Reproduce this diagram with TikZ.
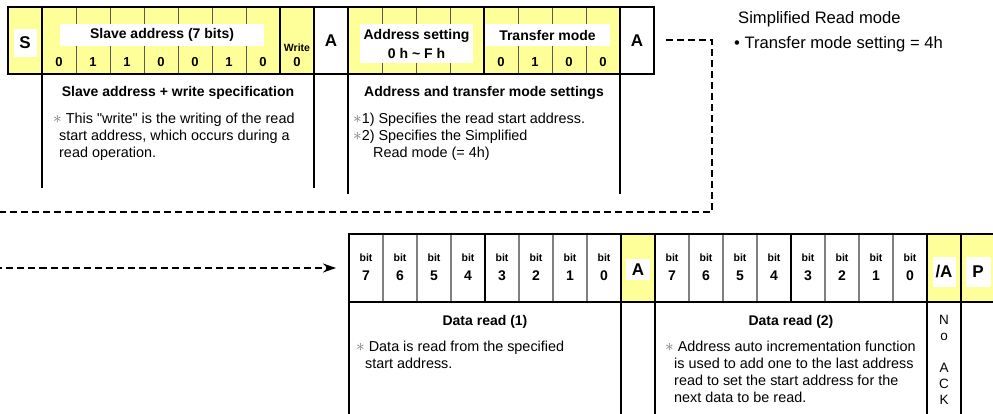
\documentclass[tikz,border=0pt]{standalone}
\usepackage{fontspec}
\setmainfont{Liberation Sans}
\usetikzlibrary{positioning, arrows.meta}
\definecolor{hiyellow}{RGB}{255,255,153}
\newcommand{\astmark}{{\color{black!55}\fontsize{17}{17}\selectfont$\ast$}}

\begin{document}
\begin{tikzpicture}[
        x=1pt,
        y=-1pt,
        cell/.style={minimum width=34pt, minimum height=67pt, inner sep=0pt, outer sep=0pt, anchor=north west},
        lowcell/.style={cell, minimum height=68pt},
        hi/.style={fill=hiyellow},
        sep/.style={draw=black!65, line width=0.8pt},
        datasep/.style={draw=gray, line width=1.2pt},
        frame/.style={draw, line width=2pt},
        leg/.style={line width=2.5pt},
        tag/.style={fill=white, inner sep=0pt, font=\bfseries\fontsize{14}{16}\selectfont},
        big/.style={font=\bfseries\fontsize{17}{19}\selectfont},
        digit/.style={font=\bfseries\fontsize{13}{15}\selectfont},
        lowdigit/.style={font=\bfseries\fontsize{14}{16}\selectfont},
        bitlbl/.style={font=\bfseries\fontsize{10.5}{12}\selectfont},
        head/.style={font=\bfseries\fontsize{14}{16}\selectfont},
        note/.style={anchor=north west, align=left, inner sep=0pt, font=\fontsize{14.4}{17}\selectfont},
        flow/.style={dash pattern=on 7pt off 4pt, line width=2pt}
    ]
    \useasboundingbox (0,0) rectangle (993,414);
    \clip (0,0) rectangle (993,414);

    \node[cell, hi] (start) at (8,7) {};
    \foreach \i in {1,...,7}
        \node[cell, hi, sep] (sa\i) at (8+34*\i,7) {};
    \node[cell, hi] (wr) at (280,7) {};
    \node[cell] (acka) at (314,7) {};
    \foreach \i in {1,...,4}
        \node[cell, hi, sep] (ad\i) at (314+34*\i,7) {};
    \foreach \i in {1,...,4}
        \node[cell, hi, sep] (tm\i) at (450+34*\i,7) {};
    \node[cell] (ackb) at (620,7) {};

    \draw[frame] (start.north west) rectangle (ackb.south east);
    \foreach \c in {start, sa7, wr, acka, ad4, tm4}
        \draw[frame] (\c.north east) -- (\c.south east);
    \foreach \c/\len in {start/114, wr/114, acka/120, tm4/120}
        \draw[leg] (\c.south east) -- ++(0,\len);

    \node[tag, big, minimum width=23pt, minimum height=28pt] at ([yshift=-2.5pt]start.center) {S};
    \node[tag, minimum width=204pt, minimum height=22pt] (satag) at (162,35) {Slave address (7 bits)};
    \foreach \v [count=\i] in {0,1,1,0,0,1,0}
        \node[digit] at ([yshift=-21.5pt]sa\i.center) {\v};
    \node[bitlbl] at ([yshift=-7.5pt]wr.center) {Write};
    \node[digit] at ([yshift=-21.5pt]wr.center) {0};
    \node[big] at (acka) {A};
    \node[tag, minimum width=113pt, minimum height=39pt, align=center, font=\bfseries\fontsize{14}{19}\selectfont] (adtag) at (416.5,43.5) {Address setting\\0 h \textasciitilde{} F h};
    \node[tag, minimum width=125pt, minimum height=22pt] (tmtag) at (547.5,35) {Transfer mode};
    \foreach \v [count=\i] in {0,1,0,0}
        \node[digit] at ([yshift=-21.5pt]tm\i.center) {\v};
    \node[big] at (ackb) {A};

    \node[head] (sahead) at (178,93) {Slave address + write specification};
    \node[note] (sanote) at (53,112.5) {\astmark\ This \textquotedbl write\textquotedbl{} is the writing of the read\\\hspace*{6pt}start address, which occurs during a\\\hspace*{6pt}read operation.};
    \node[head] (adhead) at (484,93) {Address and transfer mode settings};
    \node[note] (adnote) at (353,112.5) {\astmark1) Specifies the read start address.\\\astmark2) Specifies the Simplified\\\hspace*{20pt}Read mode (= 4h)};

    \node[anchor=west, inner sep=0pt, font=\fontsize{16.6}{18}\selectfont] (modetitle) at (738,19) {Simplified Read mode};
    \node[anchor=west, inner sep=0pt, font=\fontsize{16.6}{18}\selectfont] (modeitem) at (734,44) {\textbullet\ Transfer mode setting = 4h};

    \foreach \i in {1,...,8}
        \node[lowcell, datasep] (dA\i) at (315+34*\i,234) {};
    \node[lowcell, hi] (ackc) at (621,234) {};
    \foreach \i in {1,...,8}
        \node[lowcell, datasep] (dB\i) at (621+34*\i,234) {};
    \node[lowcell, hi] (nack) at (927,234) {};
    \node[lowcell, hi] (stop) at (961,234) {};

    \draw[frame] (dA1.north west) rectangle (stop.south east);
    \foreach \c in {dA4, dA8, ackc, dB4, dB8, nack}
        \draw[frame] (\c.north east) -- (\c.south east);
    \foreach \c in {dA1.south west, dA8.south east, ackc.south east, dB8.south east, nack.south east}
        \draw[leg] (\c) -- ++(0,115);

    \foreach \i [evaluate=\i as \b using int(8-\i)] in {1,...,8} {
        \node[bitlbl] at ([yshift=10pt]dA\i.center) {bit};
        \node[lowdigit] at ([yshift=-8pt]dA\i.center) {\b};
        \node[bitlbl] at ([yshift=10pt]dB\i.center) {bit};
        \node[lowdigit] at ([yshift=-8pt]dB\i.center) {\b};
    }
    \node[tag, big, minimum width=24pt, minimum height=21pt] at ([yshift=-1.5pt]ackc.center) {A};
    \node[tag, big, minimum width=23pt, minimum height=30pt] at ([yshift=-4pt]nack.center) {/A};
    \node[tag, big, minimum width=25pt, minimum height=30pt] at ([yshift=-4pt]stop.center) {P};

    \node[head] (rdhead) at (485,322) {Data read (1)};
    \node[note] (rdnote) at (356,340.5) {\astmark\ Data is read from the specified\\\hspace*{9pt}start address.};
    \node[head] (nxhead) at (791,322) {Data read (2)};
    \node[note] (nxnote) at (665,340.5) {\astmark\ Address auto incrementation function\\\hspace*{9pt}is used to add one to the last address\\\hspace*{9pt}read to set the start address for the\\\hspace*{9pt}next data to be read.};
    \node[anchor=north, align=center, inner sep=0pt, font=\fontsize{13.5}{16}\selectfont] (noack) at (944,315) {N\\o\\[16pt]A\\C\\K};

    \coordinate (turn) at (712,212);
    \coordinate (wrap) at (-10,212);
    \draw[flow, -{Stealth[length=13pt, width=9pt]}, shorten >=13pt] ([xshift=12pt]ackb.east) -| (turn) -- (wrap) |- (dA1.west);
\end{tikzpicture}
\end{document}
